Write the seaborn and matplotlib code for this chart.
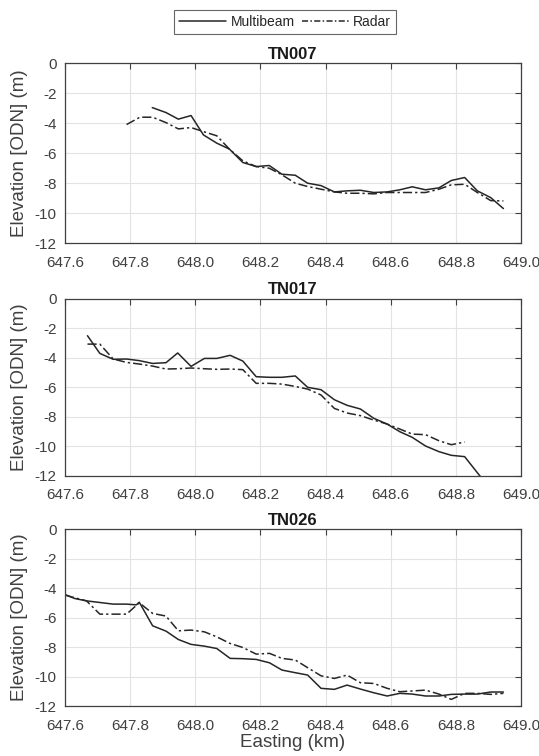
import matplotlib
matplotlib.use("Agg")
import matplotlib.pyplot as plt
import seaborn as sns
import numpy as np
import pandas as pd

# profile data (easting km, elevation m)
tn007_mb_x = [647.868, 647.910, 647.948, 647.987, 648.025, 648.066, 648.105, 648.146, 648.187, 648.227,
              648.266, 648.307, 648.345, 648.386, 648.427, 648.466, 648.507, 648.548, 648.589, 648.628,
              648.666, 648.707, 648.748, 648.786, 648.827, 648.866, 648.907, 648.946]
tn007_mb_y = [-2.96, -3.29, -3.73, -3.49, -4.78, -5.33, -5.73, -6.62, -6.89, -6.82,
              -7.40, -7.47, -8.00, -8.16, -8.58, -8.51, -8.47, -8.62, -8.58, -8.44,
              -8.24, -8.44, -8.31, -7.82, -7.62, -8.51, -8.96, -9.69]
tn007_rd_x = [647.789, 647.830, 647.869, 647.910, 647.948, 647.987, 648.025, 648.066, 648.105, 648.146,
              648.187, 648.227, 648.266, 648.307, 648.345, 648.386, 648.427, 648.466, 648.507, 648.548,
              648.589, 648.628, 648.666, 648.707, 648.748, 648.786, 648.827, 648.866, 648.907, 648.946]
tn007_rd_y = [-4.09, -3.60, -3.60, -3.96, -4.38, -4.29, -4.56, -4.84, -5.73, -6.51,
              -6.89, -7.00, -7.44, -8.00, -8.22, -8.40, -8.58, -8.67, -8.67, -8.71,
              -8.62, -8.62, -8.62, -8.62, -8.40, -8.11, -8.07, -8.62, -9.16, -9.18]

tn017_mb_x = [647.669, 647.707, 647.748, 647.789, 647.828, 647.869, 647.910, 647.946, 647.987, 648.028,
              648.066, 648.107, 648.146, 648.187, 648.228, 648.266, 648.307, 648.345, 648.386, 648.427,
              648.466, 648.507, 648.548, 648.589, 648.628, 648.666, 648.707, 648.748, 648.786, 648.827,
              648.880]
tn017_mb_y = [-2.52, -3.72, -4.12, -4.10, -4.21, -4.40, -4.35, -3.69, -4.60, -4.06,
              -4.06, -3.85, -4.24, -5.30, -5.34, -5.34, -5.25, -6.02, -6.18, -6.86,
              -7.24, -7.49, -8.12, -8.51, -9.03, -9.41, -10.00, -10.38, -10.63, -10.72,
              -12.20]
tn017_rd_x = [647.669, 647.707, 647.748, 647.789, 647.828, 647.869, 647.910, 647.946, 647.987, 648.028,
              648.066, 648.107, 648.146, 648.187, 648.228, 648.266, 648.307, 648.345, 648.386, 648.427,
              648.466, 648.507, 648.548, 648.589, 648.628, 648.666, 648.707, 648.748, 648.786, 648.827]
tn017_rd_y = [-3.09, -3.09, -4.10, -4.33, -4.44, -4.58, -4.78, -4.76, -4.71, -4.76,
              -4.80, -4.78, -4.82, -5.75, -5.75, -5.80, -5.96, -6.14, -6.54, -7.45,
              -7.76, -7.94, -8.24, -8.51, -8.85, -9.19, -9.23, -9.64, -9.91, -9.73]

tn026_mb_x = [647.600, 647.630, 647.666, 647.707, 647.748, 647.789, 647.819, 647.828, 647.869, 647.910,
              647.948, 647.987, 648.028, 648.066, 648.107, 648.146, 648.187, 648.228, 648.266, 648.307,
              648.345, 648.386, 648.427, 648.466, 648.507, 648.548, 648.589, 648.628, 648.666, 648.707,
              648.748, 648.786, 648.827, 648.866, 648.907, 648.946]
tn026_mb_y = [-4.44, -4.71, -4.87, -4.98, -5.09, -5.09, -5.14, -4.96, -6.56, -6.92,
              -7.49, -7.82, -7.94, -8.10, -8.77, -8.79, -8.84, -9.07, -9.56, -9.74,
              -9.90, -10.80, -10.87, -10.58, -10.85, -11.10, -11.32, -11.14, -11.19, -11.32,
              -11.32, -11.21, -11.19, -11.19, -11.05, -11.05]
tn026_rd_x = [647.600, 647.630, 647.666, 647.707, 647.748, 647.789, 647.828, 647.869, 647.910, 647.948,
              647.987, 648.028, 648.066, 648.107, 648.146, 648.187, 648.228, 648.266, 648.307, 648.345,
              648.386, 648.427, 648.466, 648.507, 648.548, 648.589, 648.628, 648.666, 648.707, 648.748,
              648.786, 648.827, 648.866, 648.907, 648.946]
tn026_rd_y = [-4.48, -4.66, -4.87, -5.77, -5.77, -5.77, -5.00, -5.72, -5.90, -6.90,
              -6.85, -6.97, -7.31, -7.76, -8.03, -8.48, -8.43, -8.77, -8.88, -9.40,
              -9.95, -10.13, -9.90, -10.42, -10.47, -10.80, -11.03, -10.98, -10.92, -11.19,
              -11.55, -11.14, -11.14, -11.21, -11.14]

titles = ["TN007", "TN017", "TN026"]
profiles = [(tn007_mb_x, tn007_mb_y, tn007_rd_x, tn007_rd_y),
            (tn017_mb_x, tn017_mb_y, tn017_rd_x, tn017_rd_y),
            (tn026_mb_x, tn026_mb_y, tn026_rd_x, tn026_rd_y)]
xticks = [647.6, 647.8, 648.0, 648.2, 648.4, 648.6, 648.8, 649.0]
yticks = [0, -2, -4, -6, -8, -10, -12]

sns.set_style("white")
plt.rcParams['font.family'] = ['Liberation Sans', 'DejaVu Sans']
plt.rcParams['axes.unicode_minus'] = False

fig = plt.figure(figsize=(5.39, 7.56), dpi=100)
# axes boxes (left, bottom, width, height) in figure fractions
boxes = [(0.1206, 0.6783, 0.846, 0.2381),
         (0.1206, 0.3710, 0.846, 0.2341),
         (0.1206, 0.0661, 0.846, 0.2341)]
line_col = "#262626"
grey = "#404040"

for i, (title, prof) in enumerate(zip(titles, profiles)):
    ax = fig.add_axes(boxes[i])
    mbx, mby, rdx, rdy = prof
    mb = pd.DataFrame({"x": mbx, "y": mby})
    rd = pd.DataFrame({"x": rdx, "y": rdy})
    sns.lineplot(data=mb, x="x", y="y", ax=ax, color=line_col, lw=1.1,
                 label="Multibeam" if i == 0 else None)
    sns.lineplot(data=rd, x="x", y="y", ax=ax, color=line_col, lw=1.1,
                 dashes=False, label="Radar" if i == 0 else None)
    ax.lines[-1].set_dashes([6, 2, 1.5, 2])
    ax.set_xlim(647.6, 649.0)
    ax.set_ylim(-12, 0)
    ax.set_xticks(xticks)
    ax.set_xticklabels([f"{t:.1f}" for t in xticks])
    ax.set_yticks(yticks)
    ax.grid(True, color="#e3e3e3", lw=0.8)
    ax.tick_params(direction="in", length=4, width=0.8, colors=grey, labelsize=11,
                   top=True, right=True)
    ax.tick_params(axis="x", pad=9)
    ax.tick_params(axis="y", pad=6)
    for s in ax.spines.values():
        s.set_color(grey)
        s.set_linewidth(0.9)
    ax.set_title(title, fontsize=12, fontweight="bold", color="#1a1a1a", pad=3)
    ax.set_ylabel("Elevation [ODN] (m)", fontsize=13.5, color=grey, labelpad=5)
    ax.set_xlabel("Easting (km)" if i == 2 else "", fontsize=13.5, color=grey, labelpad=1)
    if ax.get_legend() is not None:
        ax.get_legend().remove()
    if i == 0:
        handles, labels = ax.get_legend_handles_labels()

leg = fig.legend(handles, labels, loc="center", bbox_to_anchor=(285 / 539, 1 - 22 / 756),
                 ncol=2, fontsize=10, frameon=True, fancybox=False, handlelength=3.4,
                 handletextpad=0.3, columnspacing=0.5, borderpad=0.35)
leg.get_frame().set_edgecolor(grey)
leg.get_frame().set_linewidth(0.8)
leg.legend_handles[1].set_dashes([4, 1.5, 1, 1.5])

fig.savefig("out.png", dpi=100)
